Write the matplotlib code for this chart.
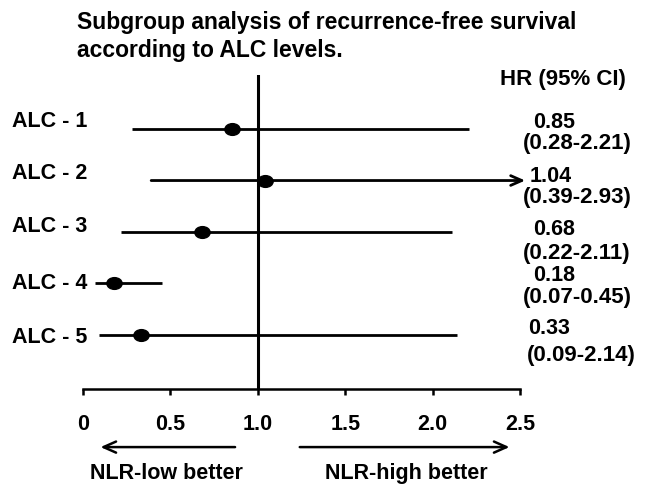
import matplotlib
matplotlib.use("Agg")
import matplotlib.pyplot as plt
from matplotlib.path import Path
from matplotlib.transforms import Affine2D
import numpy as np

plt.rcParams['font.family'] = ['Liberation Sans', 'DejaVu Sans']
plt.rcParams['font.weight'] = 'bold'

groups = ["ALC - 1", "ALC - 2", "ALC - 3", "ALC - 4", "ALC - 5"]
hr = [0.85, 1.04, 0.68, 0.18, 0.33]
ci_low = [0.28, 0.39, 0.22, 0.07, 0.09]
ci_high = [2.21, 2.93, 2.11, 0.45, 2.14]
hr_text = ["0.85", "1.04", "0.68", "0.18", "0.33"]
ci_text = ["(0.28-2.21)", "(0.39-2.93)", "(0.22-2.11)", "(0.07-0.45)", "(0.09-2.14)"]
xticks = [0, 0.5, 1.0, 1.5, 2.0, 2.5]
xticklabels = ["0", "0.5", "1.0", "1.5", "2.0", "2.5"]
title = "Subgroup analysis of recurrence-free survival\naccording to ALC levels."

W, H = 646, 494
FS = 15.5
fig = plt.figure(figsize=(W / 100, H / 100), dpi=100)
ax = fig.add_axes([83 / W, 1 - 389 / H, (520 - 83) / W, (389 - 75) / H])

xmax_axis = 2.5
ax.set_xlim(0, xmax_axis)
ax.set_ylim(6.05, -0.05)
rows = np.arange(1, len(groups) + 1)

ellipse = Path.unit_circle().transformed(Affine2D().scale(1.3, 1.0))

for y, h, lo, hi in zip(rows, hr, ci_low, ci_high):
    if hi > xmax_axis:
        ax.annotate("", xy=(2.53, y), xytext=(lo, y), xycoords='data',
                    arrowprops=dict(arrowstyle='->,head_length=0.8,head_width=0.35',
                                    lw=2.0, color='black', shrinkA=0, shrinkB=0),
                    annotation_clip=False)
    else:
        ax.plot([lo, hi], [y, y], color='black', lw=2.0, solid_capstyle='butt', clip_on=False)
    ax.plot([h], [y], marker=ellipse, ms=11, color='black', clip_on=False, zorder=5)

ax.axvline(1.0, color='black', lw=2.2)

for s in ['top', 'right', 'left']:
    ax.spines[s].set_visible(False)
ax.spines['bottom'].set_linewidth(1.8)
ax.set_yticks([])
ax.set_xticks(xticks)
ax.set_xticklabels(xticklabels, fontsize=FS, fontweight='bold')
ax.tick_params(axis='x', direction='out', length=4, width=1.8, pad=14)

# group labels
label_dy = [-0.15, -0.13, -0.1, 0.0, 0.05]
for y, g, d in zip(rows, groups, label_dy):
    ax.annotate(g, xy=(12 / W, y + d), xycoords=('figure fraction', 'data'),
                fontsize=FS, fontweight='bold', ha='left', va='center', annotation_clip=False)

# HR column
ax.annotate("HR (95% CI)", xy=(563 / W, 1 - 80 / H), xycoords='figure fraction',
            fontsize=16, fontweight='bold', ha='center', va='center')
hr_x = [533, 530, 533, 533, 528]
hr_dy = [-0.13, -0.08, -0.04, -0.16, -0.12]
ci_x = [523, 523, 523, 523, 527]
ci_dy = [0.28, 0.33, 0.41, 0.27, 0.39]
for y, t, c, hx, hd, cx, cd in zip(rows, hr_text, ci_text, hr_x, hr_dy, ci_x, ci_dy):
    ax.annotate(t, xy=(hx / W, y + hd), xycoords=('figure fraction', 'data'),
                fontsize=FS, fontweight='bold', ha='left', va='center', annotation_clip=False)
    ax.annotate(c, xy=(cx / W, y + cd), xycoords=('figure fraction', 'data'),
                fontsize=16, fontweight='bold', ha='left', va='center', annotation_clip=False)

# direction arrows
tr = ax.get_xaxis_transform()
ax.annotate("", xy=(0.10, -0.185), xytext=(0.87, -0.185), xycoords=tr, textcoords=tr,
            arrowprops=dict(arrowstyle='->,head_length=0.9,head_width=0.4', lw=1.8,
                            color='black', shrinkA=0, shrinkB=0), annotation_clip=False)
ax.annotate("", xy=(2.44, -0.185), xytext=(1.24, -0.185), xycoords=tr, textcoords=tr,
            arrowprops=dict(arrowstyle='->,head_length=0.9,head_width=0.4', lw=1.8,
                            color='black', shrinkA=0, shrinkB=0), annotation_clip=False)
ax.text(0.48, -0.268, "NLR-low better", transform=tr, fontsize=FS, fontweight='bold',
        ha='center', va='center')
ax.text(1.85, -0.268, "NLR-high better", transform=tr, fontsize=FS, fontweight='bold',
        ha='center', va='center')

fig.text(77 / W, 1 - 11 / H, title, fontsize=16.5, fontweight='bold', ha='left', va='top',
         linespacing=1.25)

fig.savefig("out.png", dpi=100)
